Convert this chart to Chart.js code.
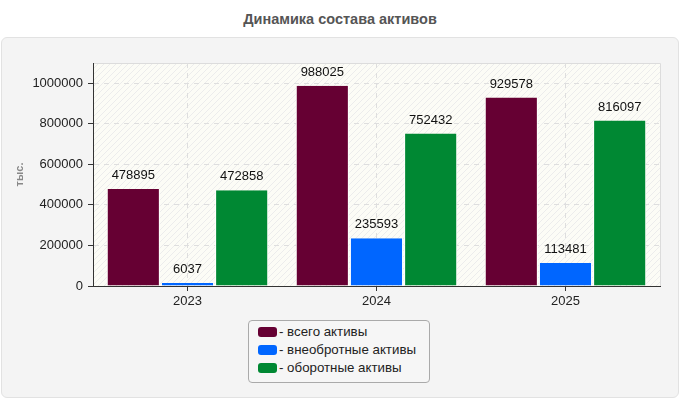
<!DOCTYPE html>
<html><head><meta charset="utf-8">
<script src="https://cdn.jsdelivr.net/npm/chart.js@4/dist/chart.umd.min.js"></script>
<style>
html,body{margin:0;padding:0;background:#fff;width:680px;height:400px;overflow:hidden;font-family:"Liberation Sans",Arial,sans-serif;}
#title{position:absolute;left:0;top:11px;width:680px;text-align:center;font-weight:bold;font-size:14.5px;color:#555;}
#panel{position:absolute;left:1px;top:37px;width:676px;height:359px;background:#f4f4f4;border:1px solid #e2e2e2;border-radius:6px;}
#wrap{position:absolute;left:0;top:0;width:680px;height:400px;}
#legend{position:absolute;left:248px;top:320px;width:182px;height:63px;border:1px solid #aaa;border-radius:4px;background:#f6f6f6;box-sizing:border-box;padding:2px 0 0 9px;font-size:13.3px;color:#222;}
.li{height:18px;line-height:18px;white-space:nowrap;}
.sw{display:inline-block;width:19px;height:10px;border-radius:3px;vertical-align:-1px;margin-right:2px;}
</style></head><body>
<div id="title">Динамика состава активов</div>
<div id="panel"></div>
<div id="wrap"><canvas id="c" width="680" height="400"></canvas></div>
<div id="legend"></div>
<script>
const categories = ['2023', '2024', '2025'];
const seriesNames = ['всего активы', 'внеобротные активы', 'оборотные активы'];
const totalAssets = [478895, 988025, 929578];
const nonCurrentAssets = [6037, 235593, 113481];
const currentAssets = [472858, 752432, 816097];
const seriesColors = ['#660033', '#0066ff', '#008833'];
const yTicks = [0, 200000, 400000, 600000, 800000, 1000000];
const yAxisTitle = 'тыс.';

const seriesValues = [totalAssets, nonCurrentAssets, currentAssets];

// legend
const leg = document.getElementById('legend');
seriesNames.forEach((n, i) => {
  const d = document.createElement('div'); d.className = 'li';
  const s = document.createElement('span'); s.className = 'sw'; s.style.background = seriesColors[i];
  d.appendChild(s); d.appendChild(document.createTextNode('- ' + n));
  leg.appendChild(d);
});

// hatch pattern
function makePattern(ctx) {
  const p = document.createElement('canvas'); p.width = 6; p.height = 6;
  const c = p.getContext('2d');
  c.fillStyle = '#fcfcf6'; c.fillRect(0, 0, 6, 6);
  c.strokeStyle = '#ececec'; c.lineWidth = 1;
  c.beginPath();
  c.moveTo(0, 6); c.lineTo(6, 0);
  c.moveTo(-1, 1); c.lineTo(1, -1);
  c.moveTo(5, 7); c.lineTo(7, 5);
  c.stroke();
  return ctx.createPattern(p, 'repeat');
}

const bgPlugin = {
  id: 'bgPlugin',
  beforeDraw(chart) {
    const {ctx, chartArea: a} = chart;
    ctx.save();
    ctx.fillStyle = makePattern(ctx);
    ctx.fillRect(a.left, a.top, a.right - a.left, a.bottom - a.top);
    ctx.strokeStyle = '#dcdcdc'; ctx.lineWidth = 1;
    ctx.beginPath();
    ctx.moveTo(a.left, a.top + 0.5); ctx.lineTo(a.right + 0.5, a.top + 0.5);
    ctx.lineTo(a.right + 0.5, a.bottom);
    ctx.stroke();
    ctx.restore();
  }
};

const labelPlugin = {
  id: 'labelPlugin',
  afterDatasetsDraw(chart) {
    const {ctx} = chart;
    ctx.save();
    ctx.font = '13px "Liberation Sans", Arial, sans-serif';
    ctx.fillStyle = '#111';
    ctx.textAlign = 'center';
    ctx.textBaseline = 'bottom';
    chart.data.datasets.forEach((ds, di) => {
      chart.getDatasetMeta(di).data.forEach((bar, i) => {
        ctx.fillText(String(ds.data[i]), bar.x, bar.y - 7);
      });
    });
    ctx.restore();
  }
};

new Chart(document.getElementById('c'), {
  type: 'bar',
  data: {
    labels: categories,
    datasets: seriesNames.map((n, i) => ({
      label: n,
      data: seriesValues[i],
      backgroundColor: seriesColors[i],
      borderColor: '#ffffff',
      borderWidth: {top: 0, left: 1, right: 1, bottom: 0},
      borderSkipped: 'bottom',
      minBarLength: 3,
      barPercentage: 0.98,
      categoryPercentage: 0.86
    }))
  },
  options: {
    responsive: false,
    animation: false,
    layout: {padding: {top: 63, right: 20, left: 0, bottom: 0}},
    plugins: {legend: {display: false}, tooltip: {enabled: false}, title: {display: false}},
    scales: {
      x: {
        afterFit(s) { s.height = 114; },
        grid: {offset: false, color: '#dedede', tickColor: '#333', tickLength: 5, tickBorderDash: [], drawOnChartArea: true},
        border: {display: true, color: '#333', width: 1, dash: [5, 5]},
        ticks: {font: {size: 13, family: '"Liberation Sans", Arial, sans-serif'}, color: '#222', padding: 3}
      },
      y: {
        min: 0, max: 1100000,
        afterFit(s) { s.width = 93; },
        afterBuildTicks(s) { s.ticks = yTicks.map(v => ({value: v})); },
        grid: {color: '#dedede', tickColor: '#333', tickLength: 5, tickBorderDash: []},
        border: {display: true, color: '#333', width: 1, dash: [5, 5]},
        ticks: {font: {size: 13, family: '"Liberation Sans", Arial, sans-serif'}, color: '#222', padding: 5, callback: v => String(v)},
        title: {display: true, text: yAxisTitle, color: '#888', font: {size: 11, weight: 'bold', family: '"Liberation Sans", Arial, sans-serif'}, padding: {top: 13, bottom: 0}}
      }
    }
  },
  plugins: [bgPlugin, labelPlugin]
});
</script>
</body></html>
